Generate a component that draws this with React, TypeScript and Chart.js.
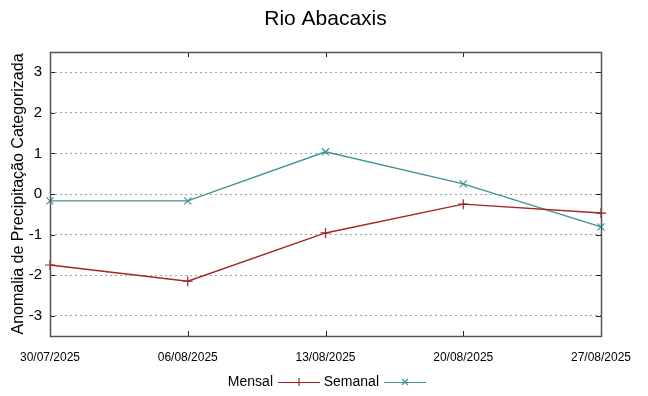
import { useEffect, useRef } from "react";
import { Chart, registerables } from "chart.js";
Chart.register(...registerables);

const chartTitle = "Rio Abacaxis";
const yTitle = "Anomalia de Precipitação Categorizada";
const dates = ["30/07/2025", "06/08/2025", "13/08/2025", "20/08/2025", "27/08/2025"];
const mensal = [-1.75, -2.15, -0.96, -0.25, -0.47];
const semanal = [-0.17, -0.17, 1.04, 0.25, -0.81];
const yTicks = [-3, -2, -1, 0, 1, 2, 3];
const seriesNames = ["Mensal", "Semanal"];

const RED = "#a52424";
const TEAL = "#3f9494";
const FONT = "'Liberation Sans', Arial, sans-serif";

const framePlugin = {
  id: "frame",
  beforeDatasetsDraw(chart: any) {
    const { ctx, chartArea: a, scales } = chart;
    ctx.save();
    ctx.strokeStyle = "#222";
    ctx.lineWidth = 1;
    ctx.beginPath();
    const ys = scales.y;
    yTicks.forEach((v) => {
      const y = Math.round(ys.getPixelForValue(v)) + 0.5;
      ctx.moveTo(a.left, y);
      ctx.lineTo(a.left + 5, y);
      ctx.moveTo(a.right, y);
      ctx.lineTo(a.right - 5, y);
    });
    const xs = scales.x;
    dates.forEach((_, i) => {
      const x = Math.round(xs.getPixelForValue(i)) + 0.5;
      ctx.moveTo(x, a.bottom);
      ctx.lineTo(x, a.bottom - 5);
      ctx.moveTo(x, a.top);
      ctx.lineTo(x, a.top + 5);
    });
    ctx.stroke();
    ctx.restore();
  },
  afterDraw(chart: any) {
    const { ctx, chartArea: a } = chart;
    ctx.save();
    ctx.strokeStyle = "#555";
    ctx.lineWidth = 1.5;
    ctx.strokeRect(Math.round(a.left) + 0.5, Math.round(a.top) + 0.5, Math.round(a.right - a.left), Math.round(a.bottom - a.top));
    // title
    ctx.fillStyle = "#000";
    ctx.font = `21px ${FONT}`;
    ctx.textAlign = "center";
    ctx.textBaseline = "middle";
    ctx.fillText(chartTitle, (a.left + a.right) / 2, 19);
    // legend
    ctx.font = `14px ${FONT}`;
    ctx.textAlign = "right";
    const ly = 382;
    const items = [
      { name: seriesNames[0], color: RED, style: "cross", end: 273 },
      { name: seriesNames[1], color: TEAL, style: "crossRot", end: 379 },
    ];
    items.forEach((it) => {
      ctx.fillStyle = "#000";
      ctx.fillText(it.name, it.end, ly);
      const x0 = it.end + 5;
      const x1 = x0 + 42;
      ctx.strokeStyle = it.color;
      ctx.lineWidth = 1.2;
      ctx.beginPath();
      ctx.moveTo(x0, ly + 0.5);
      ctx.lineTo(x1, ly + 0.5);
      const cx = (x0 + x1) / 2;
      if (it.style === "cross") {
        ctx.moveTo(cx, ly - 4);
        ctx.lineTo(cx, ly + 4);
      } else {
        ctx.moveTo(cx - 3, ly - 3);
        ctx.lineTo(cx + 3, ly + 3);
        ctx.moveTo(cx - 3, ly + 3);
        ctx.lineTo(cx + 3, ly - 3);
      }
      ctx.stroke();
    });
    ctx.restore();
  },
};

export default function App() {
  const ref = useRef<HTMLCanvasElement>(null);
  useEffect(() => {
    document.body.style.margin = "0";
    const chart = new Chart(ref.current!, {
      type: "line",
      data: {
        labels: dates,
        datasets: [
          {
            label: seriesNames[0],
            data: mensal,
            borderColor: RED,
            backgroundColor: RED,
            borderWidth: 1.4,
            pointStyle: "cross",
            pointRadius: 5,
            pointBorderWidth: 1.2,
            tension: 0,
            clip: false as any,
          },
          {
            label: seriesNames[1],
            data: semanal,
            borderColor: TEAL,
            backgroundColor: TEAL,
            borderWidth: 1.4,
            pointStyle: "crossRot",
            pointRadius: 5,
            pointBorderWidth: 1.2,
            tension: 0,
            clip: false as any,
          },
        ],
      },
      options: {
        animation: false,
        responsive: false,
        layout: { padding: { top: 52, right: 47, bottom: 0, left: 0 } },
        plugins: {
          legend: { display: false },
          title: { display: false },
          tooltip: { enabled: false },
        },
        scales: {
          x: {
            type: "category",
            offset: false,
            grid: { display: false, drawTicks: false },
            border: { display: false },
            ticks: {
              font: { family: FONT, size: 12 },
              color: "#000",
              padding: 14,
              maxRotation: 0,
              autoSkip: false,
            },
            afterFit: (s: any) => {
              s.height = 60;
            },
          },
          y: {
            min: -3.5,
            max: 3.5,
            afterBuildTicks: (s: any) => {
              s.ticks = yTicks.map((v) => ({ value: v }));
            },
            grid: {
              drawTicks: false,
              color: "#a0a0a0",
              lineWidth: 1,
            },
            border: { display: false, dash: [2, 3] },
            ticks: {
              font: { family: FONT, size: 15 },
              color: "#000",
              padding: 8,
            },
            title: {
              display: true,
              text: yTitle,
              font: { family: FONT, size: 16 },
              color: "#000",
              padding: { top: 9, bottom: 0 },
            },
            afterFit: (s: any) => {
              s.width = 50;
            },
          },
        },
      },
      plugins: [framePlugin],
    });
    (chart.options.scales as any).y.border.dash = [2, 3];
    chart.update();
    return () => chart.destroy();
  }, []);
  return <canvas ref={ref} width={648} height={396} style={{ display: "block" }} />;
}
